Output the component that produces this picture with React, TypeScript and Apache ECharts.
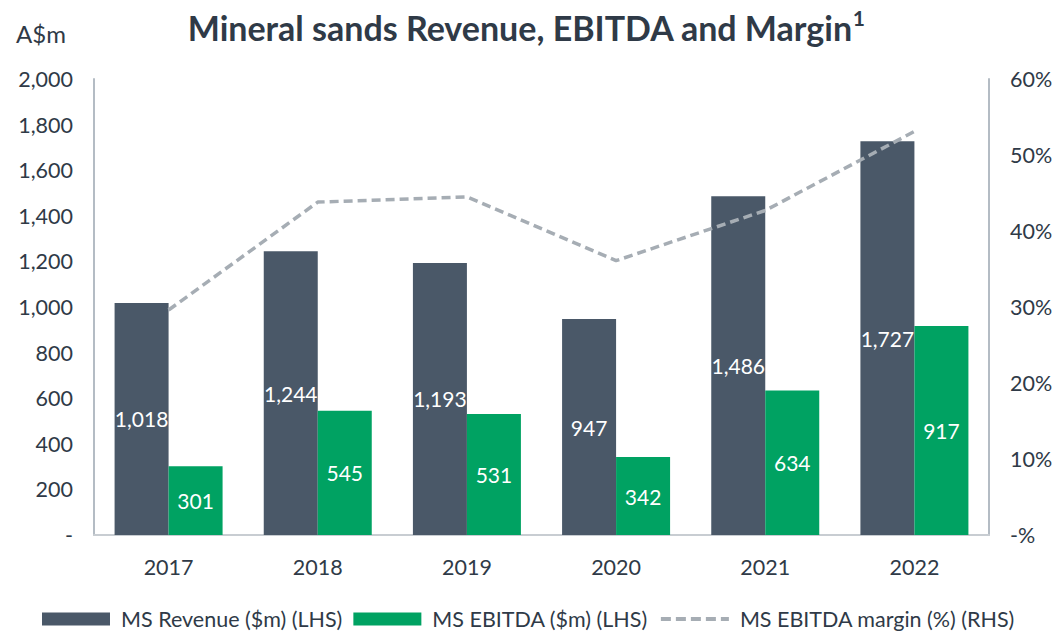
import React, { useEffect, useRef } from "react";
import * as echarts from "echarts";

const years = ["2017", "2018", "2019", "2020", "2021", "2022"];
const revenue = [1018, 1244, 1193, 947, 1486, 1727];
const ebitda = [301, 545, 531, 342, 634, 917];
const margin = [29.6, 43.8, 44.5, 36.1, 42.7, 53.1];

const FONT = "Lato, 'Noto Sans', sans-serif";
const TXT = "#2f3a47";

export default function App() {
  const ref = useRef<HTMLDivElement>(null);
  useEffect(() => {
    const chart = echarts.init(ref.current!, undefined, { renderer: "svg" });
    chart.setOption({
      animation: false,
      textStyle: { fontFamily: FONT },
      title: [
        {
          text: "{a|Mineral sands Revenue, EBITDA and Margin}{s|1}",
          left: 521,
          textAlign: "center",
          top: 2,
          textStyle: {
            rich: {
              a: { fontSize: 34, lineHeight: 40, fontWeight: "bold", color: TXT, fontFamily: FONT },
              s: { fontSize: 21, lineHeight: 40, fontWeight: "bold", color: TXT, fontFamily: FONT, verticalAlign: "top", padding: [0, 0, 16, 0] },
            },
          },
        },
        {
          text: "A$m",
          left: 11,
          top: 16,
          textStyle: { fontSize: 24, fontWeight: "normal", color: TXT, fontFamily: FONT },
        },
      ],
      grid: { left: 94, right: 69, top: 79, bottom: 99, containLabel: false },
      legend: {
        left: 42,
        top: 606,
        padding: 0,
        itemWidth: 68,
        itemHeight: 13,
        itemGap: 11,
        textStyle: { fontSize: 21.5, lineHeight: 26, color: TXT, fontFamily: FONT, padding: [0, 0, 0, 6] },
        data: [
          { name: "MS Revenue ($m) (LHS)", icon: "rect" },
          { name: "MS EBITDA ($m) (LHS)", icon: "rect" },
          {
            name: "MS EBITDA margin (%) (RHS)",
            itemStyle: { opacity: 0 },
            lineStyle: { color: "#a6adb4", width: 4, type: [10, 5] },
          },
        ],
      },
      xAxis: {
        type: "category",
        data: years,
        axisLine: { lineStyle: { color: "#c8cdd2", width: 2 } },
        axisTick: { show: false },
        axisLabel: { fontSize: 21.5, color: TXT, margin: 21, fontFamily: FONT },
      },
      yAxis: [
        {
          type: "value",
          min: 0,
          max: 2000,
          interval: 200,
          splitLine: { show: false },
          axisLine: { show: true, lineStyle: { color: "#b4bcc4", width: 2 } },
          axisTick: { show: false },
          axisLabel: {
            fontSize: 21.5,
            color: TXT,
            margin: 21,
            fontFamily: FONT,
            formatter: (v: number) => (v === 0 ? "-" : v.toLocaleString("en-US")),
          },
        },
        {
          type: "value",
          min: 0,
          max: 60,
          interval: 10,
          splitLine: { show: false },
          axisLine: { show: true, lineStyle: { color: "#b4bcc4", width: 2 } },
          axisTick: { show: false },
          axisLabel: {
            fontSize: 21.5,
            color: TXT,
            margin: 21,
            fontFamily: FONT,
            formatter: (v: number) => (v === 0 ? "-%" : v + "%"),
          },
        },
      ],
      series: [
        {
          name: "MS Revenue ($m) (LHS)",
          type: "bar",
          data: revenue,
          barWidth: 54,
          barGap: "0%",
          itemStyle: { color: "#4a5868" },
          label: {
            show: true,
            position: "inside",
            color: "#ffffff",
            fontSize: 21,
            fontFamily: FONT,
            formatter: (p: any) => Number(p.value).toLocaleString("en-US"),
          },
        },
        {
          name: "MS EBITDA ($m) (LHS)",
          type: "bar",
          data: ebitda,
          barWidth: 54,
          barGap: "0%",
          itemStyle: { color: "#00a262" },
          label: {
            show: true,
            position: "inside",
            color: "#ffffff",
            fontSize: 21,
            fontFamily: FONT,
          },
        },
        {
          name: "MS EBITDA margin (%) (RHS)",
          type: "line",
          yAxisIndex: 1,
          data: margin,
          symbol: "none",
          lineStyle: { color: "#a6adb4", width: 3.5, type: [9, 5] },
          itemStyle: { color: "#a6adb4" },
          z: 5,
        },
      ],
    });
    return () => chart.dispose();
  }, []);
  return (
    <div
      ref={ref}
      style={{ position: "fixed", left: 0, top: 0, width: 1058, height: 634, background: "#fff" }}
    />
  );
}
